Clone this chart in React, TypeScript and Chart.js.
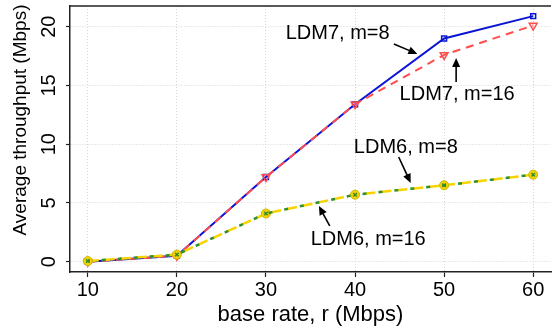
import React, { useEffect, useRef } from "react";
import { Chart, registerables } from "chart.js";

Chart.register(...registerables);

const rates = [10, 20, 30, 40, 50, 60];
const ldm7m8 = [0.0, 0.5, 7.2, 13.4, 19.0, 20.9];
const ldm7m16 = [0.0, 0.5, 7.2, 13.4, 17.6, 20.1];
const ldm6m8 = [0.05, 0.6, 4.1, 5.7, 6.5, 7.4];
const ldm6m16 = [0.05, 0.6, 4.1, 5.7, 6.5, 7.4];
const xTicks = [10, 20, 30, 40, 50, 60];
const yTicks = [0, 5, 10, 15, 20];
const xTitle = "base rate, r (Mbps)";
const yTitle = "Average throughput (Mbps)";

// annotation: text centre and arrow (from -> to, head at "to"), in data units
const noteText = ["LDM7, m=8", "LDM7, m=16", "LDM6, m=8", "LDM6, m=16"];
const noteX = [38.05, 51.46, 45.7, 41.48];
const noteY = [19.38, 14.19, 9.76, 1.85];
const arrowFromX = [44.36, 51.35, 44.9, 37.16];
const arrowFromY = [18.53, 15.29, 8.91, 3.04];
const arrowToX = [47.0, 51.35, 46.25, 35.94];
const arrowToY = [17.68, 17.34, 6.7, 4.74];

const FONT = '"Liberation Sans", Arial, Helvetica, sans-serif';

const overlay = {
  id: "overlay",
  afterDraw(chart: any) {
    const ctx = chart.ctx;
    const { left, right, top } = chart.chartArea;
    const xs = chart.scales.x;
    const ys = chart.scales.y;
    ctx.save();
    // top frame line
    ctx.setLineDash([]);
    ctx.strokeStyle = "#222";
    ctx.lineWidth = 1.5;
    ctx.beginPath();
    ctx.moveTo(left, top);
    ctx.lineTo(right, top);
    ctx.stroke();

    // rotated y tick labels
    ctx.fillStyle = "#000";
    ctx.font = `20px ${FONT}`;
    ctx.textAlign = "center";
    ctx.textBaseline = "middle";
    yTicks.forEach((v) => {
      const py = ys.getPixelForValue(v);
      ctx.save();
      ctx.translate(49, py);
      ctx.rotate(-Math.PI / 2);
      ctx.fillText(String(v), 0, 0);
      ctx.restore();
    });

    // y title
    ctx.save();
    ctx.font = `19px ${FONT}`;
    ctx.translate(21, 120);
    ctx.rotate(-Math.PI / 2);
    ctx.fillText(yTitle, 0, 0);
    ctx.restore();

    // annotations
    ctx.font = `20px ${FONT}`;
    noteText.forEach((t, i) => {
      ctx.fillStyle = "#000";
      ctx.fillText(t, xs.getPixelForValue(noteX[i]), ys.getPixelForValue(noteY[i]));
      const x0 = xs.getPixelForValue(arrowFromX[i]);
      const y0 = ys.getPixelForValue(arrowFromY[i]);
      const x1 = xs.getPixelForValue(arrowToX[i]);
      const y1 = ys.getPixelForValue(arrowToY[i]);
      const ang = Math.atan2(y1 - y0, x1 - x0);
      const hl = 9;
      const hw = 4;
      ctx.strokeStyle = "#000";
      ctx.lineWidth = 1.6;
      ctx.beginPath();
      ctx.moveTo(x0, y0);
      ctx.lineTo(x1 - Math.cos(ang) * hl * 0.8, y1 - Math.sin(ang) * hl * 0.8);
      ctx.stroke();
      ctx.beginPath();
      ctx.moveTo(x1, y1);
      ctx.lineTo(
        x1 - Math.cos(ang) * hl - Math.sin(ang) * hw,
        y1 - Math.sin(ang) * hl + Math.cos(ang) * hw
      );
      ctx.lineTo(
        x1 - Math.cos(ang) * hl + Math.sin(ang) * hw,
        y1 - Math.sin(ang) * hl - Math.cos(ang) * hw
      );
      ctx.closePath();
      ctx.fill();
    });
    ctx.restore();
  },
};

export default function App() {
  const ref = useRef<HTMLCanvasElement>(null);
  useEffect(() => {
    if (!ref.current) return;
    const pts = (arr: number[]) => rates.map((r, i) => ({ x: r, y: arr[i] }));
    const chart = new Chart(ref.current, {
      type: "line",
      data: {
        datasets: [
          {
            label: "LDM6, m=8",
            data: pts(ldm6m8),
            borderColor: "#2f8f2f",
            backgroundColor: "#2f8f2f",
            borderWidth: 2.5,
            borderDash: [4, 12],
            borderDashOffset: 2,
            pointStyle: "crossRot",
            pointRadius: 2.5,
            pointBorderWidth: 1.5,
            order: 1,
          },
          {
            label: "LDM6, m=16",
            data: pts(ldm6m16),
            borderColor: "#f7d400",
            backgroundColor: "#f7d400",
            borderWidth: 2.5,
            borderDash: [11, 5],
            pointStyle: "circle",
            pointRadius: 4.5,
            pointBorderWidth: 1,
            pointBorderColor: "#c9b400",
            order: 2,
          },
          {
            label: "LDM7, m=16",
            data: pts(ldm7m16),
            borderColor: "#ff4d4d",
            backgroundColor: "rgba(0,0,0,0)",
            borderWidth: 2,
            borderDash: [8, 6],
            pointStyle: "triangle",
            rotation: 180,
            pointRadius: 4.5,
            pointBorderWidth: 1.5,
            order: 3,
          },
          {
            label: "LDM7, m=8",
            data: pts(ldm7m8),
            borderColor: "#0a14d6",
            backgroundColor: "rgba(0,0,0,0)",
            borderWidth: 2,
            pointStyle: "rect",
            pointRadius: 3.5,
            pointBorderWidth: 1.5,
            order: 4,
          },
        ],
      },
      options: {
        animation: false,
        responsive: false,
        events: [],
        layout: { padding: { top: 6, left: 0, right: 0, bottom: 0 } },
        plugins: { legend: { display: false }, tooltip: { enabled: false } },
        scales: {
          x: {
            type: "linear",
            min: 8,
            max: 62,
            afterBuildTicks: (s: any) => {
              s.ticks = xTicks.map((v) => ({ value: v }));
            },
            afterFit: (s: any) => {
              s.height = 56;
            },
            grid: {
              color: "#d4d4d4",
              lineWidth: 1,
              drawTicks: true,
              tickLength: 5,
              tickColor: "#222",
              tickWidth: 1.2,
              tickBorderDash: [],
            },
            border: { display: true, color: "#222", width: 1.5, dash: [1, 2] },
            ticks: {
              color: "#000",
              padding: 1,
              maxRotation: 0,
              font: { family: FONT, size: 20 },
            },
            title: {
              display: true,
              text: xTitle,
              color: "#000",
              font: { family: FONT, size: 22 },
              padding: { top: 0, bottom: 0 },
            },
          },
          y: {
            type: "linear",
            min: -0.88,
            max: 21.76,
            afterBuildTicks: (s: any) => {
              s.ticks = yTicks.map((v) => ({ value: v }));
            },
            afterFit: (s: any) => {
              s.width = 70;
            },
            grid: {
              color: "#d4d4d4",
              lineWidth: 1,
              drawTicks: true,
              tickLength: 4,
              tickColor: "#222",
              tickWidth: 1.2,
              tickBorderDash: [],
            },
            border: { display: true, color: "#222", width: 1.5, dash: [1, 2] },
            ticks: { display: false },
            title: { display: false },
          },
        },
      },
      plugins: [overlay],
    } as any);
    return () => chart.destroy();
  }, []);
  return (
    <div style={{ position: "fixed", left: 0, top: 0, width: 557, height: 328, background: "#fff" }}>
      <canvas ref={ref} width={557} height={328} style={{ display: "block" }} />
    </div>
  );
}
